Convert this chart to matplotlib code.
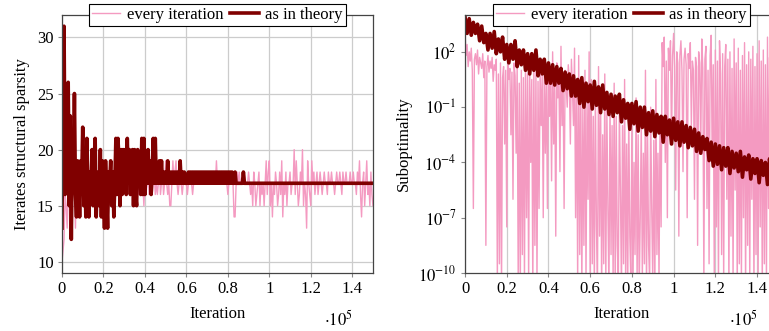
import numpy as np
import matplotlib
matplotlib.use("Agg")
import matplotlib.pyplot as plt

plt.rcParams['font.family'] = ['Liberation Serif', 'DejaVu Serif']
plt.rcParams['mathtext.fontset'] = 'stix'
plt.rcParams['font.size'] = 12

PINK = '#f49ac1'
DARK = '#800000'

# left panel: structural sparsity, pink every 500 iterations (0 .. 1.5e5)
sparsity_every = [
    10, 11, 12, 16, 15, 13, 16, 17, 18, 15, 19, 16, 17, 13, 18, 16, 17, 15, 18, 16,
    17, 15, 18, 16, 17, 18, 16, 17, 19, 16, 17, 18, 16, 17, 18, 16, 17, 18, 16, 17,
    18, 16, 17, 19, 16, 17, 18, 16, 17, 18, 16, 17, 18, 16, 17, 18, 16, 17, 18, 16,
    17, 18, 16, 17, 19, 16, 17, 18, 16, 17, 18, 16, 17, 18, 16, 17, 18, 16, 17, 15,
    17, 16, 17, 18, 16, 17, 18, 16, 17, 18, 16, 17, 16, 17, 19, 16, 17, 18, 16, 17,
    19, 17, 16, 17, 15, 15, 17, 19, 17, 18, 19, 17, 16, 17, 18, 17, 16, 17, 18, 17,
    17, 16, 17, 17, 18, 17, 16, 17, 17, 18, 17, 17, 17, 18, 17, 17, 18, 17, 17, 17,
    17, 18, 17, 17, 17, 18, 17, 17, 17, 19, 17, 17, 18, 17, 17, 17, 18, 17, 17, 17,
    16, 17, 18, 17, 17, 17, 14, 14, 17, 18, 17, 18, 17, 17, 17, 17, 18, 17, 17, 17,
    18, 17, 16, 17, 15, 18, 17, 15, 16, 17, 18, 15, 17, 16, 17, 15, 17, 19, 16, 18,
    19, 15, 17, 14, 17, 16, 18, 17, 15, 16, 18, 16, 19, 14, 17, 16, 18, 15, 17, 17,
    18, 16, 17, 17, 20, 16, 19, 17, 15, 16, 18, 17, 20, 15, 17, 16, 13, 19, 17, 16,
    15, 19, 17, 18, 16, 17, 18, 16, 17, 18, 17, 16, 17, 18, 17, 17, 16, 18, 17, 17,
    18, 17, 17, 16, 17, 18, 17, 17, 18, 17, 16, 18, 17, 17, 18, 17, 17, 17, 18, 17,
    17, 18, 17, 17, 16, 18, 17, 19, 16, 14, 17, 18, 15, 17, 19, 16, 17, 15, 18, 16, 15,
]

# dark: every 500 iterations up to 0.9e5, then constant to the end
sparsity_theory = [
    13, 27, 31, 16, 22, 18, 26, 15, 23, 12, 20, 17, 25, 16, 14, 19, 18, 14, 19, 17,
    22, 15, 19, 14, 21, 17, 14, 18, 16, 20, 15, 19, 21, 14, 17, 18, 15, 20, 14, 19,
    17, 13, 19, 16, 13, 18, 17, 19, 15, 18, 14, 17, 21, 16, 21, 19, 15, 20, 16, 20,
    17, 20, 16, 21, 17, 20, 16, 19, 20, 15, 20, 16, 15, 20, 17, 19, 16, 21, 16, 21,
    16, 18, 17, 20, 17, 19, 16, 18, 21, 17, 21, 17, 18, 17, 19, 17, 19, 17, 18, 17,
    18, 17, 19, 17, 18, 17, 18, 17, 18, 17, 18, 17, 18, 17, 19, 17, 18, 17, 18, 17,
    17, 17, 18, 17, 18, 17, 18, 17, 18, 17, 18, 17, 18, 17, 18, 17, 18, 17, 18, 17,
    18, 17, 18, 17, 18, 17, 18, 17, 18, 17, 18, 17, 18, 17, 18, 17, 18, 17, 18, 17,
    18, 17, 18, 17, 18, 17, 17, 18, 17, 17, 17, 17, 17, 17, 17, 18, 17, 17, 17, 17,
    17,
]

# right panel: log10 of suboptimality, pink every 500 iterations
subopt_every_log = [
    3.0, 1.8, 2.4, 1.2, 2.0, 1.5, 2.2, 1.0, -6.5, 1.6, 1.9, 1.3, 2.1, 0.8, 1.7, 1.4, 1.1, 1.9, 0.6, 1.5,
    -8.5, 1.2, 1.8, 0.9, 1.5, 1.1, 1.7, 0.4, 1.3, 1.0, 1.6, -10.5, 0.8, -9.5, 1.4, -11, 0.6, 1.2, -3.0, 1.0,
    -7.5, 1.3, 0.5, 1.1, -2.5, 0.9, -6.0, 1.4, 0.7, -3.5, 1.2, -10.5, 0.3, -11, 1.0, -9.0, 0.6, -10.5, 1.5, -7.0,
    0.8, -10.5, 1.1, -4.0, 0.5, -11, 1.3, -8.5, 0.9, -10.5, 0.4, -6.5, 1.0, -2.0, 0.7, -7.0, 1.2, -3.5, 0.6, -6.5,
    1.1, -1.5, 0.8, -5.0, 2.0, -3.0, 0.5, -8.0, 1.4, -0.5, 0.9, -4.5, 2.3, -2.0, 0.6, -6.5, 1.0, 0.2, -1.0, 1.3,
    0.4, -3.0, 1.6, 0.0, -2.0, 2.2, -7.0, 0.5, -10.5, 1.8, -9.0, 0.3, -11, -1.0, -8.5, 1.0, -10.5, -0.5, -6.0, 2.0,
    -10.5, 0.5, -9.5, -1.5, -11, 0.0, -7.5, -10.5, 1.2, -8.0, -0.5, -11, -2.5, -9.5, 0.8, -10.5, -1.0, -6.5, -11, -0.5,
    -9.0, -2.0, -10.5, 0.3, -11, -1.5, -8.5, -10.5, -0.8, -5.5, -11, -2.0, -9.5, 0.5, -10.5, -3.0, -11, -1.2, -8.0, -10.5,
    -1.5, -11, -4.0, -9.0, -0.5, -10.5, -2.5, -11, -7.0, -1.8, -10.5, -3.5, -9.5, 1.0, -11, -2.2, -8.5, -10.5, -1.0, -6.5,
    -10.5, -2.8, -11, 0.5, -9.0, -3.5, -10.5, -1.5, -7.5, 2.5, 1.2, 2.8, -4.0, 1.5, -7.0, 2.2, 1.0, 2.6, -3.0, 1.8,
    3.0, 1.2, -5.5, 2.0, 1.4, -8.0, 1.8, 2.6, 1.0, -4.5, 1.6, 2.2, 1.3, -7.0, 1.9, 1.1, 2.5, -2.0, 1.5, 1.0,
    -6.0, 1.7, 1.2, -8.5, 2.0, 1.4, -3.5, 2.7, 1.1, -10.5, 1.6, 2.3, -6.5, 1.0, -9.5, 1.8, 2.9, -4.0, 1.3, -10.5,
    2.1, -7.5, 1.5, -11, 2.6, 0.8, -9.0, 1.9, -10.5, 1.2, 2.4, -6.0, 1.6, -11, 2.0, -8.0, 1.1, -10.5, 2.7, -5.5,
    1.4, -11, 2.2, -9.5, 1.0, -10.5, 1.8, -7.0, 2.5, -11, 1.3, -8.5, 2.0, -10.5, 1.6, -6.0, 2.3, -11, 1.2, -9.0,
    1.9, -10.5, 2.6, -7.5, 1.5, -11, 2.1, -9.5, 1.3, -10.5, 2.8, -6.5, 1.7, -11, 2.4, -8.0, 1.0, -10.5, 2.2, -9.0, 1.5,
]

# dark: every 1000 iterations
subopt_theory_log = [
    3.9, 3.0, 3.8, 2.9, 3.6, 3.0, 3.5, 2.6, 3.4, 2.5,
    3.0, 2.1, 3.0, 2.2, 3.1, 1.9, 2.7, 2.0, 2.8, 1.6,
    2.4, 1.4, 2.4, 1.6, 2.6, 1.2, 2.1, 1.3, 2.1, 1.0,
    1.9, 0.8, 1.9, 1.0, 2.1, 0.7, 1.6, 0.8, 1.6, 0.3,
    1.4, 0.3, 1.3, 0.2, 1.2, 0.3, 1.1, -0.1, 0.9, 0.0,
    0.8, -0.4, 0.7, -0.4, 0.5, -0.8, 0.6, -1.0, 0.3, -0.7,
    0.2, -1.1, 0.4, -0.9, 0.1, -1.3, 0.2, -1.1, -0.2, -1.4,
    -0.3, -1.5, -0.4, -1.3, -0.3, -1.8, -0.6, -1.6, -0.8, -2.2,
    -0.8, -1.9, -0.7, -2.3, -1.0, -2.1, -1.0, -2.5, -1.3, -2.3,
    -1.2, -2.6, -1.4, -2.4, -1.5, -2.9, -1.5, -2.5, -1.7, -3.0,
    -1.6, -2.8, -1.8, -3.1, -1.8, -2.9, -2.0, -3.2, -2.1, -3.1,
    -2.2, -3.4, -2.4, -3.5, -2.6, -3.3, -2.7, -3.9, -2.9, -4.2,
    -3.0, -4.1, -3.1, -4.4, -3.2, -4.2, -3.2, -4.6, -3.4, -4.3,
    -3.5, -4.5, -3.4, -4.8, -3.7, -4.4, -3.6, -4.9, -3.8, -4.6,
    -3.8, -5.1, -3.9, -4.7, -4.0, -5.2, -3.8, -4.9, -4.1, -5.1, -4.4,
]

xticks = [0, 20000, 40000, 60000, 80000, 100000, 120000, 140000]
xticklabels = ['0', '0.2', '0.4', '0.6', '0.8', '1', '1.2', '1.4']
log_ticks = [1e-10, 1e-7, 1e-4, 1e-1, 1e2]


def style(ax, ygrid=True):
    ax.set_xlim(0, 150000)
    ax.set_xticks(xticks)
    ax.set_xticklabels(xticklabels)
    ax.grid(True, axis='x', color='#cccccc', lw=0.9)
    if ygrid:
        ax.grid(True, axis='y', color='#cccccc', lw=0.9)
    ax.set_axisbelow(True)
    for s in ax.spines.values():
        s.set_color('#444444')
        s.set_linewidth(0.9)
    ax.tick_params(direction='out', length=3, width=0.8, color='#888888',
                   labelsize=12, pad=3)
    ax.set_xlabel('Iteration', labelpad=6)
    ax.text(0.89, -0.18, r'$\cdot 10^5$', transform=ax.transAxes,
            ha='center', va='center', fontsize=12)
    leg = ax.legend(loc='center', bbox_to_anchor=(0.5, 1.0), ncol=2,
                    fancybox=False, edgecolor='black', framealpha=1,
                    handlelength=1.7, handletextpad=0.4, columnspacing=0.4,
                    borderpad=0.2, borderaxespad=0, fontsize=12)
    leg.get_frame().set_linewidth(0.8)
    leg.set_zorder(10)


fig = plt.figure(figsize=(7.69, 3.31), dpi=100)
ax1 = fig.add_axes([0.0806, 0.1752, 0.4044, 0.7795])
ax2 = fig.add_axes([0.6047, 0.1752, 0.4069, 0.7795])

x_every = np.linspace(0, 150000, len(sparsity_every))
x_theory = list(np.arange(len(sparsity_theory) - 1) * 500) + [150000]
ax1.plot(x_every, sparsity_every, color=PINK, lw=1.0, label='every iteration')
ax1.plot(x_theory, sparsity_theory, color=DARK, lw=2.6, label='as in theory')
ax1.set_ylim(9, 32)
ax1.set_yticks([10, 15, 20, 25, 30])
ax1.set_ylabel('Iterates structural sparsity', labelpad=5)
style(ax1)

x_every2 = np.linspace(0, 150000, len(subopt_every_log))
x_theory2 = np.linspace(0, 150000, len(subopt_theory_log))
ax2.plot(x_every2, 10.0 ** np.array(subopt_every_log), color=PINK, lw=1.0,
         label='every iteration')
ax2.plot(x_theory2, 10.0 ** np.array(subopt_theory_log), color=DARK, lw=2.6,
         label='as in theory')
ax2.set_yscale('log')
ax2.set_ylim(1e-10, 1e4)
ax2.set_yticks(log_ticks)
ax2.set_yticklabels([r'$10^{-10}$', r'$10^{-7}$', r'$10^{-4}$', r'$10^{-1}$', r'$10^{2}$'])
ax2.yaxis.set_minor_locator(matplotlib.ticker.NullLocator())
ax2.set_ylabel('Suboptimality', labelpad=5)
style(ax2, ygrid=False)

fig.savefig('out.png', dpi=100)
